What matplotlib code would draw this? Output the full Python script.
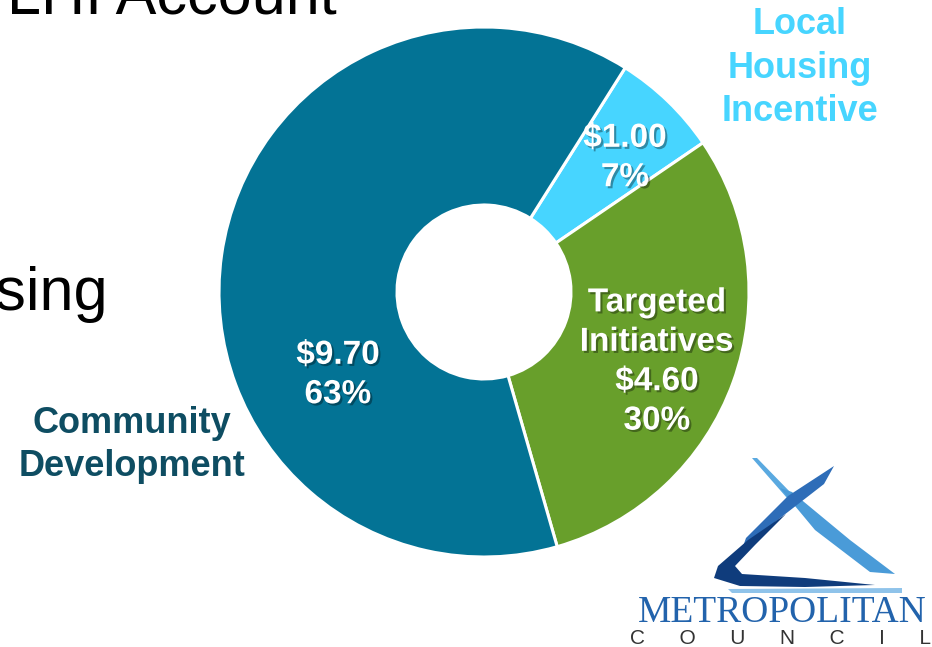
import matplotlib
matplotlib.use('Agg')
from matplotlib import pyplot as plt
from matplotlib.patches import Polygon
import matplotlib.patheffects as pe

W, H = 932, 647

# data
labels = ['Local Housing Incentive', 'Targeted Initiatives', 'Community Development']
amounts = [1.00, 4.60, 9.70]
pcts = ['7%', '30%', '63%']
colors = ['#47D5FF', '#689F2B', '#037395']

plt.rcParams['font.family'] = ['Liberation Sans', 'DejaVu Sans']


def Y(y):
    # pixel row from the top -> data y
    return H - y


def chart():
    fig = plt.figure(figsize=(W / 100, H / 100), dpi=100)
    ax = fig.add_axes([0, 0, 1, 1])

    ax.pie(amounts, colors=colors, startangle=57.8, counterclock=False,
           radius=265, center=(484, Y(292)),
           wedgeprops=dict(width=265 - 87, edgecolor='white', linewidth=2.2))
    ax.set_xlim(0, W)
    ax.set_ylim(0, H)
    ax.set_aspect('equal')
    ax.axis('off')

    shadow = [pe.SimplePatchShadow(offset=(1.5, -1.5), shadow_rgbFace='black', alpha=0.35), pe.Normal()]

    # slide text behind the chart
    ax.text(337, Y(13), 'LHI Account', fontsize=44, color='black', ha='right', va='baseline')
    ax.text(108, Y(310), 'Housing', fontsize=44, color='black', ha='right', va='baseline')

    # labels inside wedges
    ax.text(625, Y(158), f'${amounts[0]:.2f}\n{pcts[0]}', fontsize=24, fontweight='bold', color='white',
            ha='center', va='center', linespacing=1.35, path_effects=shadow)
    ax.text(657, Y(362), f'Targeted\nInitiatives\n${amounts[1]:.2f}\n{pcts[1]}', fontsize=24,
            fontweight='bold', color='white', ha='center', va='center', linespacing=1.35, path_effects=shadow)
    ax.text(338, Y(375), f'${amounts[2]:.2f}\n{pcts[2]}', fontsize=24, fontweight='bold', color='white',
            ha='center', va='center', linespacing=1.35, path_effects=shadow)

    # outside labels
    ax.text(800, Y(68), 'Local\nHousing\nIncentive', fontsize=26, fontweight='bold', color='#47D5FF',
            ha='center', va='center', linespacing=1.3)
    ax.text(132, Y(445), 'Community\nDevelopment', fontsize=26, fontweight='bold', color='#0E4D62',
            ha='center', va='center', linespacing=1.3)

    # Metropolitan Council logo (rough)
    def poly(pts, color):
        ax.add_patch(Polygon([(x, Y(y)) for x, y in pts], closed=True, color=color, lw=0))

    poly([(752, 458), (757, 458), (792, 494), (787, 498)], '#5AA9E0')
    poly([(780, 488), (792, 492), (850, 540), (895, 574), (870, 572), (815, 530)], '#4A9BD8')
    poly([(834, 466), (824, 484), (775, 522), (740, 555), (746, 538), (788, 496)], '#2E6DB8')
    poly([(786, 514), (748, 540), (718, 566), (714, 578), (740, 586), (805, 587), (875, 585),
          (805, 578), (742, 574), (735, 566), (755, 545)], '#0F3C7C')
    poly([(728, 589), (902, 588), (902, 593), (732, 593)], '#8FC3EA')

    ax.text(782, Y(613), 'METROPOLITAN', fontsize=27, color='#2263AC', family='Liberation Serif',
            ha='center', va='center')
    ax.text(781, Y(638), 'C      O      U      N      C      I      L', fontsize=15, color='#333333',
            ha='center', va='center')

    fig.savefig('out.png', dpi=100)


if __name__ == '__main__':
    chart()
